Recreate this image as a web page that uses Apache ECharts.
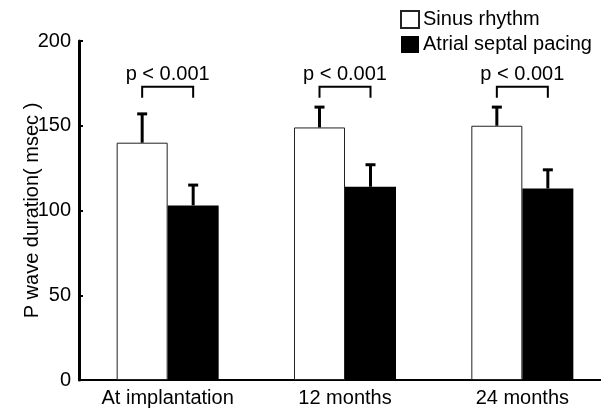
<!DOCTYPE html>
<html>
<head>
<meta charset="utf-8">
<script src="https://cdn.jsdelivr.net/npm/echarts@6/dist/echarts.min.js"></script>
<style>html,body{margin:0;padding:0;background:#fff;overflow:hidden;width:601px;height:410px;}#c{width:611px;height:410px;}</style>
</head>
<body>
<div id="c"></div>
<script>
var categories = ['At implantation', '12 months', '24 months'];
var seriesNames = ['Sinus rhythm', 'Atrial septal pacing'];
var sinusValues = [140, 149, 150];
var sinusSD = [17, 12, 11];
var pacingValues = [103, 114, 113];
var pacingSD = [12, 13, 11];
var bracketTop = [173, 173, 173];
var bracketLeg = [166.5, 166.5, 166.5];
var pLabels = ['p < 0.001', 'p < 0.001', 'p < 0.001'];
var pLabelValue = [180, 180, 180];
var yTicks = [0, 50, 100, 150, 200];

var FONT = '"Liberation Sans", Arial, Helvetica, sans-serif';
var BAR_W = 51;

var chart = echarts.init(document.getElementById('c'), null, {renderer: 'canvas'});

function errData(vals, sds) {
  return vals.map(function (v, i) { return [i, v, v + sds[i]]; });
}

function errRender(offsetSign) {
  return function (params, api) {
    var ci = api.value(0);
    var base = api.coord([ci, api.value(1)]);
    var top = api.coord([ci, api.value(2)]);
    var x = base[0] + offsetSign * BAR_W / 2;
    return {
      type: 'group',
      children: [
        {type: 'line', shape: {x1: x, y1: base[1], x2: x, y2: top[1]}, style: {stroke: '#000', lineWidth: 3}},
        {type: 'line', shape: {x1: x - 5, y1: top[1], x2: x + 5, y2: top[1]}, style: {stroke: '#000', lineWidth: 3}}
      ]
    };
  };
}

var bracketData = categories.map(function (c, i) { return [i, bracketTop[i], bracketLeg[i], pLabelValue[i]]; });

var option = {
  animation: false,
  backgroundColor: '#fff',
  textStyle: {fontFamily: FONT},
  grid: {left: 79, right: 0, top: 41, bottom: 30, containLabel: false},
  legend: {
    orient: 'vertical',
    left: 400,
    top: 9.5,
    padding: 0,
    itemWidth: 18,
    itemHeight: 17,
    itemGap: 5,
    icon: 'rect',
    textStyle: {fontSize: 20, color: '#000', fontFamily: FONT, padding: [0, 0, 0, -1]},
    data: seriesNames
  },
  xAxis: {
    type: 'category',
    data: categories,
    axisLine: {lineStyle: {color: '#000', width: 2}},
    axisTick: {show: false},
    axisLabel: {fontSize: 20, color: '#000', margin: 8, fontFamily: FONT}
  },
  yAxis: {
    type: 'value',
    min: 0,
    max: 200,
    interval: 50,
    name: 'P wave duration( msec )',
    nameLocation: 'middle',
    nameGap: 37,
    nameRotate: 90,
    nameMoveOverlap: false,
    nameTextStyle: {fontSize: 20, color: '#000', fontFamily: FONT},
    axisLine: {show: true, lineStyle: {color: '#000', width: 3}},
    axisTick: {show: true, inside: true, length: 4, lineStyle: {color: '#000', width: 2}},
    axisLabel: {fontSize: 20, color: '#000', margin: 8, fontFamily: FONT,
      formatter: function (v) { return yTicks.indexOf(v) >= 0 ? String(v) : ''; }},
    splitLine: {show: false}
  },
  series: [
    {
      name: seriesNames[0], type: 'bar', data: sinusValues, barWidth: BAR_W, barGap: '0%',
      itemStyle: {color: '#fff', borderColor: '#222', borderWidth: 1}
    },
    {
      name: seriesNames[1], type: 'bar', data: pacingValues, barWidth: BAR_W, barGap: '0%',
      itemStyle: {color: '#000', borderColor: '#000', borderWidth: 0}
    },
    {
      type: 'custom', name: 'errS', data: errData(sinusValues, sinusSD), renderItem: errRender(-1), z: 5,
      encode: {x: 0, y: [1, 2]}, silent: true
    },
    {
      type: 'custom', name: 'errP', data: errData(pacingValues, pacingSD), renderItem: errRender(1), z: 5,
      encode: {x: 0, y: [1, 2]}, silent: true
    },
    {
      type: 'custom', name: 'brackets', data: bracketData, z: 5, silent: true,
      encode: {x: 0, y: [1, 2, 3]},
      renderItem: function (params, api) {
        var ci = api.value(0);
        var t = api.coord([ci, api.value(1)]);
        var l = api.coord([ci, api.value(2)]);
        var lab = api.coord([ci, api.value(3)]);
        var x1 = t[0] - BAR_W / 2, x2 = t[0] + BAR_W / 2;
        return {
          type: 'group',
          children: [
            {type: 'polyline', shape: {points: [[x1, l[1]], [x1, t[1]], [x2, t[1]], [x2, l[1]]]},
              style: {stroke: '#000', lineWidth: 2, fill: null}},
            {type: 'text', x: t[0], y: lab[1],
              style: {text: pLabels[params.dataIndex], fontSize: 20, fontFamily: FONT, fill: '#000',
                align: 'center', verticalAlign: 'middle'}}
          ]
        };
      }
    }
  ]
};
chart.setOption(option);
</script>
</body>
</html>
